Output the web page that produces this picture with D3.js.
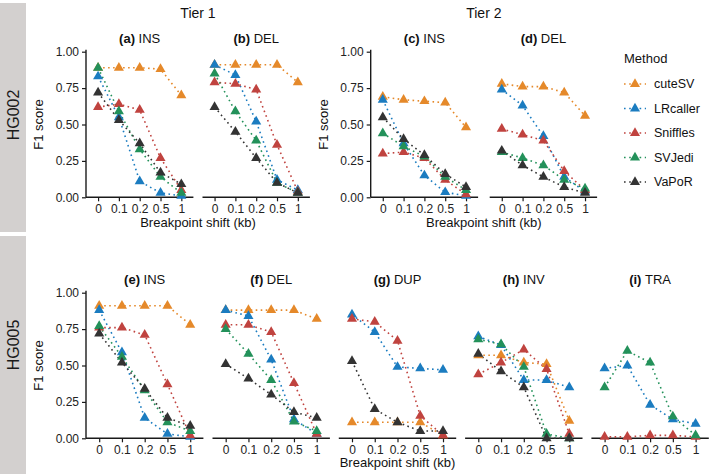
<!DOCTYPE html>
<html><head><meta charset="utf-8">
<script src="https://cdn.jsdelivr.net/npm/d3@7"></script>
<style>body{margin:0;background:#fff}svg{display:block;font-family:"Liberation Sans",Arial,sans-serif}</style>
</head><body><svg id="c" width="711" height="474"></svg>
<script>
const shifts = ["0","0.1","0.2","0.5","1"];
const methods = ["cuteSV","LRcaller","Sniffles","SVJedi","VaPoR"];
const colors = ["#E5892A","#1B7CC0","#C0433F","#23915A","#333333"];
const yTicks = [0,0.25,0.5,0.75,1];
const rowLabels = ["HG002","HG005"];
const tierLabels = ["Tier 1","Tier 2"];
// F1 values per panel, rows in method order (cuteSV, LRcaller, Sniffles, SVJedi, VaPoR)
const a_INS = [[0.89,0.89,0.89,0.88,0.70],[0.83,0.55,0.11,0.03,0.01],[0.62,0.64,0.60,0.27,0.05],[0.89,0.59,0.33,0.14,0.03],[0.72,0.53,0.37,0.17,0.09]];
const b_DEL = [[0.91,0.91,0.91,0.91,0.79],[0.91,0.84,0.52,0.12,0.05],[0.79,0.78,0.74,0.36,0.04],[0.85,0.59,0.39,0.10,0.03],[0.62,0.45,0.27,0.10,0.03]];
const c_INS = [[0.69,0.67,0.66,0.65,0.48],[0.67,0.37,0.15,0.035,0.01],[0.30,0.31,0.27,0.12,0.02],[0.44,0.35,0.28,0.14,0.05],[0.55,0.40,0.29,0.16,0.07]];
const d_DEL = [[0.78,0.76,0.76,0.72,0.56],[0.74,0.63,0.42,0.14,0.04],[0.47,0.43,0.39,0.18,0.05],[0.31,0.27,0.22,0.12,0.06],[0.32,0.22,0.14,0.07,0.03]];
const e_INS = [[0.91,0.91,0.91,0.91,0.78],[0.88,0.59,0.14,0.03,0.01],[0.76,0.76,0.71,0.37,0.02],[0.77,0.56,0.33,0.11,0.05],[0.72,0.52,0.34,0.14,0.085]];
const f_DEL = [[0.88,0.88,0.88,0.88,0.82],[0.88,0.84,0.54,0.13,0.03],[0.78,0.78,0.73,0.38,0.03],[0.75,0.58,0.40,0.115,0.05],[0.51,0.41,0.30,0.18,0.14]];
const g_DUP = [[0.11,0.11,0.11,0.11,0.02],[0.85,0.73,0.49,0.48,0.47],[0.82,0.80,0.67,0.155,0.02],null,[0.53,0.20,0.11,0.05,0.05]];
const h_INV = [[0.57,0.57,0.52,0.51,0.12],[0.70,0.64,0.40,0.40,0.35],[0.44,0.52,0.61,0.475,0.03],[0.68,0.645,0.49,0.03,0.00],[0.58,0.46,0.35,0.00,0.00]];
const i_TRA = [null,[0.48,0.50,0.23,0.13,0.10],[0.01,0.01,0.02,0.02,0.01],[0.35,0.60,0.52,0.15,0.02],null];

const svg = d3.select("#c");
const rows = [{yTop:51.7,yBot:197.3,w:107.4},{yTop:292.7,yBot:438.3,w:117.4}];
const panels = [
  {tag:"(a)",name:"INS",data:a_INS,row:0,x0:86,yAxis:true},
  {tag:"(b)",name:"DEL",data:b_DEL,row:0,x0:202.5,yAxis:false},
  {tag:"(c)",name:"INS",data:c_INS,row:0,x0:370.7,yAxis:true},
  {tag:"(d)",name:"DEL",data:d_DEL,row:0,x0:489.7,yAxis:false},
  {tag:"(e)",name:"INS",data:e_INS,row:1,x0:86,yAxis:true},
  {tag:"(f)",name:"DEL",data:f_DEL,row:1,x0:212.5,yAxis:false},
  {tag:"(g)",name:"DUP",data:g_DUP,row:1,x0:338.8,yAxis:false},
  {tag:"(h)",name:"INV",data:h_INV,row:1,x0:465.1,yAxis:false},
  {tag:"(i)",name:"TRA",data:i_TRA,row:1,x0:591.4,yAxis:false}
];
// strips
svg.append("rect").attr("x",0).attr("y",3).attr("width",26).attr("height",229).attr("fill","#d3d0cf");
svg.append("rect").attr("x",0).attr("y",236).attr("width",26).attr("height",238).attr("fill","#d3d0cf");
[[115,rowLabels[0]],[345,rowLabels[1]]].forEach(([y,t])=>{
  svg.append("text").attr("transform",`translate(19,${y}) rotate(-90)`).attr("text-anchor","middle")
    .attr("font-size",16).attr("fill","#1a1a1a").text(t);
});
const tri = d3.symbol().type(d3.symbolTriangle).size(44);
const dash = "1.6,3.4";
panels.forEach(p=>{
  const r = rows[p.row];
  const x = d3.scalePoint().domain(shifts).range([p.x0,p.x0+r.w]).padding(0.58);
  const y = d3.scaleLinear().domain([0,1]).range([r.yBot,r.yTop]);
  const g = svg.append("g");
  // x axis
  const xa = g.append("g").attr("transform",`translate(0,${r.yBot})`)
    .call(d3.axisBottom(x).tickSize(4).tickPadding(3));
  xa.select(".domain").attr("stroke","#1a1a1a").attr("stroke-width",1.4).attr("d",`M${p.x0},0H${p.x0+r.w}`);
  xa.selectAll(".tick line").attr("stroke","#1a1a1a").attr("stroke-width",1.2);
  xa.selectAll(".tick text").attr("font-size",12).attr("fill","#222").attr("font-family","Liberation Sans, Arial");
  if(p.yAxis){
    const ya = g.append("g").attr("transform",`translate(${p.x0},0)`)
      .call(d3.axisLeft(y).tickValues(yTicks).tickFormat(d3.format(".2f")).tickSize(4).tickPadding(3));
    ya.select(".domain").attr("stroke","#1a1a1a").attr("stroke-width",1.4).attr("d",`M0,${r.yBot}V${r.yTop-2}`);
    ya.selectAll(".tick line").attr("stroke","#1a1a1a").attr("stroke-width",1.2);
    ya.selectAll(".tick text").attr("font-size",12).attr("fill","#222").attr("font-family","Liberation Sans, Arial");
    g.append("text").attr("transform",`translate(${p.x0-43},${(r.yTop+r.yBot)/2}) rotate(-90)`)
      .attr("text-anchor","middle").attr("font-size",13).attr("fill","#111").text("F1 score");
  }
  // title
  const t = g.append("text").attr("x",p.x0+r.w/2).attr("y",r.yTop-9).attr("text-anchor","middle")
    .attr("font-size",13).attr("fill","#111");
  t.append("tspan").attr("font-weight","bold").text(p.tag+" ");
  t.append("tspan").text(p.name);
  const line = d3.line().x((d,i)=>x(shifts[i])).y(d=>y(d));
  p.data.forEach((vals,mi)=>{
    if(!vals) return;
    g.append("path").attr("d",line(vals)).attr("fill","none").attr("stroke",colors[mi])
      .attr("stroke-width",1.6).attr("stroke-dasharray",dash);
  });
  p.data.forEach((vals,mi)=>{
    if(!vals) return;
    g.selectAll(null).data(vals).enter().append("path").attr("d",tri)
      .attr("transform",(d,i)=>`translate(${x(shifts[i])},${y(d)})`).attr("fill",colors[mi]);
  });
});
// x labels
const xl = [[(86+310)/2,224],[(370.7+597)/2,224],[338.8+117.4/2,464]];
xl.forEach(([cx,cy])=>svg.append("text").attr("x",cx).attr("y",cy).attr("text-anchor","middle")
  .attr("dominant-baseline","middle").attr("font-size",13).attr("fill","#111").text("Breakpoint shift (kb)"));
// tier labels
[[(86+310)/2,tierLabels[0]],[(370.7+597)/2,tierLabels[1]]].forEach(([cx,t])=>
  svg.append("text").attr("x",cx).attr("y",18).attr("text-anchor","middle").attr("font-size",14).attr("fill","#111").text(t));
// legend
const lg = svg.append("g");
lg.append("text").attr("x",624).attr("y",63).attr("font-size",13).attr("fill","#111").text("Method");
methods.forEach((m,i)=>{
  const cy = 84 + i*24.5;
  lg.append("line").attr("x1",624).attr("x2",646).attr("y1",cy).attr("y2",cy).attr("stroke",colors[i])
    .attr("stroke-width",1.6).attr("stroke-dasharray","1.6,3.6");
  lg.append("path").attr("d",tri).attr("transform",`translate(635,${cy})`).attr("fill",colors[i]);
  lg.append("text").attr("x",654).attr("y",cy).attr("dominant-baseline","central").attr("font-size",12.5).attr("fill","#111").text(m);
});
</script></body></html>
